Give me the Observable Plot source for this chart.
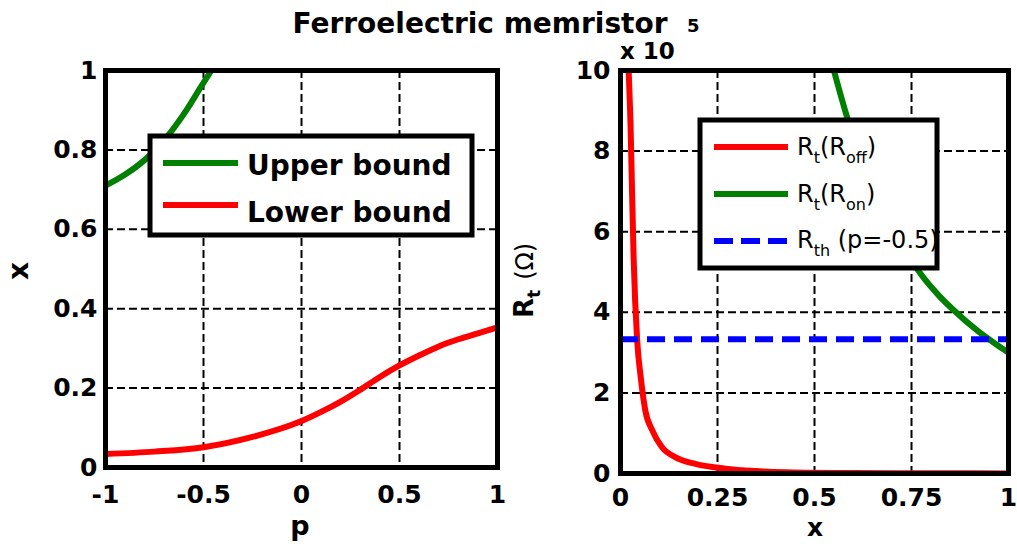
<!DOCTYPE html>
<html>
<head>
<meta charset="utf-8">
<script src="https://cdn.jsdelivr.net/npm/d3@7"></script>
<script src="https://cdn.jsdelivr.net/npm/@observablehq/plot@0.6"></script>
<style>
  html, body { margin: 0; padding: 0; background: #fff; }
  #fig { position: relative; width: 1017px; height: 544px; overflow: hidden; background: #fff; }
  #fig > * { position: absolute; top: 0; }
  #overlay { left: 0; pointer-events: none; }
</style>
</head>
<body>
<div id="fig"></div>
<script>
// Left panel: bounds on the state variable x versus polarization p
const lowerP = [-1, -0.75, -0.5, -0.25, 0, 0.1, 0.2, 0.3, 0.4, 0.5, 0.6, 0.7, 0.8, 0.9, 1];
const lowerX = [0.034, 0.040, 0.051, 0.077, 0.117, 0.140, 0.166, 0.196, 0.228, 0.257, 0.282, 0.305, 0.323, 0.338, 0.353];
const upperP = [-1, -0.9, -0.804, -0.667, -0.582, -0.514, -0.46];
const upperX = [0.71, 0.738, 0.773, 0.845, 0.904, 0.958, 1.0];
const pTicks = [-1, -0.5, 0, 0.5, 1];
const xTicksLeft = [0, 0.2, 0.4, 0.6, 0.8, 1];

// Right panel: tunnel resistance R_t (ohms) versus x
const offX = [0.021, 0.026, 0.030, 0.034, 0.043, 0.052, 0.064, 0.082, 0.107, 0.142, 0.193, 0.27, 0.35, 0.43, 0.6, 0.8, 1.0];
const offR = [1.0e6, 8.6e5, 6.9e5, 5.3e5, 3.3e5, 2.4e5, 1.56e5, 1.07e5, 6.5e4, 4.0e4, 2.4e4, 1.2e4, 6e3, 3e3, 1e3, 5e2, 3e2];
const onX = [0.55, 0.584, 0.62, 0.66, 0.70, 0.74, 0.773, 0.82, 0.859, 0.919, 0.966, 1.0];
const onR = [1.0e6, 8.84e5, 7.8e5, 6.9e5, 6.1e5, 5.45e5, 4.96e5, 4.42e5, 4.05e5, 3.55e5, 3.22e5, 3.0e5];
const rTh = [3.33e5];
const xTicksRight = [0, 0.25, 0.5, 0.75, 1];
const rTicks = [0, 2e5, 4e5, 6e5, 8e5, 1e6];

const GREEN = "#008000", RED = "#ff0000", BLUE = "#0000ff";
const fmt = d => String(d);
const gridStyle = {stroke: "black", strokeOpacity: 1, strokeWidth: 2, strokeDasharray: "8,4"};
const axisStyle = {fontFamily: "DejaVu Sans", fontSize: "25px", fontWeight: "bold", color: "black", background: "transparent", overflow: "visible"};

const lowerRows = lowerP.map((p, i) => ({p, x: lowerX[i]}));
const upperRows = upperP.map((p, i) => ({p, x: upperX[i]}));
const offRows = offX.map((x, i) => ({x, r: offR[i]}));
const onRows = onX.map((x, i) => ({x, r: onR[i]}));

const left = Plot.plot({
  width: 510, height: 544,
  marginTop: 70, marginBottom: 77, marginLeft: 105, marginRight: 13,
  x: {domain: [-1, 1]},
  y: {domain: [0, 1]},
  style: axisStyle,
  marks: [
    Plot.gridX(pTicks, gridStyle),
    Plot.gridY(xTicksLeft, gridStyle),
    Plot.line(upperRows, {x: "p", y: "x", stroke: GREEN, strokeWidth: 6, curve: "monotone-x", clip: true}),
    Plot.line(lowerRows, {x: "p", y: "x", stroke: RED, strokeWidth: 6, curve: "monotone-x", clip: true}),
    Plot.axisX(pTicks, {tickSize: 0, tickPadding: 18, tickFormat: fmt, label: null}),
    Plot.axisY(xTicksLeft, {tickSize: 0, tickPadding: 8, tickFormat: fmt, label: null}),
    Plot.frame({stroke: "black", strokeWidth: 5})
  ]
});
left.style.left = "0px";

const right = Plot.plot({
  width: 507, height: 544,
  marginTop: 70, marginBottom: 71, marginLeft: 110, marginRight: 9,
  x: {domain: [0, 1]},
  y: {domain: [0, 1e6]},
  style: axisStyle,
  marks: [
    Plot.gridX(xTicksRight, gridStyle),
    Plot.gridY(rTicks, gridStyle),
    Plot.line(offRows, {x: "x", y: "r", stroke: RED, strokeWidth: 6, curve: "monotone-x", clip: true}),
    Plot.line(onRows, {x: "x", y: "r", stroke: GREEN, strokeWidth: 6, curve: "monotone-x", clip: true}),
    Plot.ruleY(rTh, {stroke: BLUE, strokeWidth: 6, strokeDasharray: "18,9"}),
    Plot.axisX(xTicksRight, {tickSize: 0, tickPadding: 15, tickFormat: fmt, label: null}),
    Plot.axisY(rTicks, {tickSize: 0, tickPadding: 10, tickFormat: d => String(d / 1e5), label: null}),
    Plot.frame({stroke: "black", strokeWidth: 5})
  ]
});
right.style.left = "510px";

const fig = document.getElementById("fig");
fig.append(left, right);

// Title, axis labels, exponent and legends drawn on top of both panels
const svg = d3.create("svg")
  .attr("id", "overlay")
  .attr("width", 1017).attr("height", 544)
  .attr("font-family", "DejaVu Sans");

svg.append("text").attr("x", 480).attr("y", 33).attr("text-anchor", "middle")
  .attr("font-size", 28).attr("font-weight", "bold").text("Ferroelectric memristor");

svg.append("text").attr("x", 620).attr("y", 59)
  .attr("font-size", 23).attr("font-weight", "bold").text("x 10");
svg.append("text").attr("x", 687).attr("y", 32)
  .attr("font-size", 18).attr("font-weight", "bold").text("5");

svg.append("text").attr("x", 300).attr("y", 535).attr("text-anchor", "middle")
  .attr("font-size", 27).attr("font-weight", "bold").text("p");
svg.append("text").attr("x", 815).attr("y", 536).attr("text-anchor", "middle")
  .attr("font-size", 25).attr("font-weight", "bold").text("x");
svg.append("text").attr("transform", "translate(28,271) rotate(-90)").attr("text-anchor", "middle")
  .attr("font-size", 28).attr("font-weight", "bold").text("x");

const rl = svg.append("text").attr("transform", "translate(533,318) rotate(-90)");
rl.append("tspan").attr("font-size", 26).attr("font-weight", "bold").text("R");
rl.append("tspan").attr("font-size", 17).attr("font-weight", "bold").attr("dy", 7).text("t");
rl.append("tspan").attr("font-size", 24).attr("dy", -7).attr("dx", 10).text("(Ω)");

// Left legend
svg.append("rect").attr("x", 150).attr("y", 136).attr("width", 322).attr("height", 99)
  .attr("fill", "white").attr("stroke", "black").attr("stroke-width", 5);
const leftItems = [
  {label: "Upper bound", color: GREEN, y: 163, base: 175},
  {label: "Lower bound", color: RED, y: 205, base: 222}
];
for (const it of leftItems) {
  svg.append("line").attr("x1", 163).attr("x2", 238).attr("y1", it.y).attr("y2", it.y)
    .attr("stroke", it.color).attr("stroke-width", 6);
  svg.append("text").attr("x", 247).attr("y", it.base)
    .attr("font-size", 28).attr("font-weight", "bold").text(it.label);
}

// Right legend
svg.append("rect").attr("x", 700).attr("y", 120).attr("width", 237).attr("height", 148)
  .attr("fill", "white").attr("stroke", "black").attr("stroke-width", 5);
const rightItems = [
  {sub: "t", main: "(R", sub2: "off", tail: ")", color: RED, y: 147, base: 155},
  {sub: "t", main: "(R", sub2: "on", tail: ")", color: GREEN, y: 194, base: 202},
  {sub: "th", main: " (p=-0.5)", sub2: null, tail: "", color: BLUE, y: 241, base: 248, dash: "19,8"}
];
for (const it of rightItems) {
  svg.append("line").attr("x1", 714).attr("x2", 788).attr("y1", it.y).attr("y2", it.y)
    .attr("stroke", it.color).attr("stroke-width", 6).attr("stroke-dasharray", it.dash || null);
  const t = svg.append("text").attr("x", 797).attr("y", it.base).attr("font-size", 24);
  t.append("tspan").text("R");
  t.append("tspan").attr("font-size", 16).attr("dy", 8).text(it.sub);
  t.append("tspan").attr("dy", -8).text(it.main);
  if (it.sub2) {
    t.append("tspan").attr("font-size", 16).attr("dy", 8).text(it.sub2);
    t.append("tspan").attr("dy", -8).text(it.tail);
  }
}

fig.append(svg.node());
</script>
</body>
</html>
